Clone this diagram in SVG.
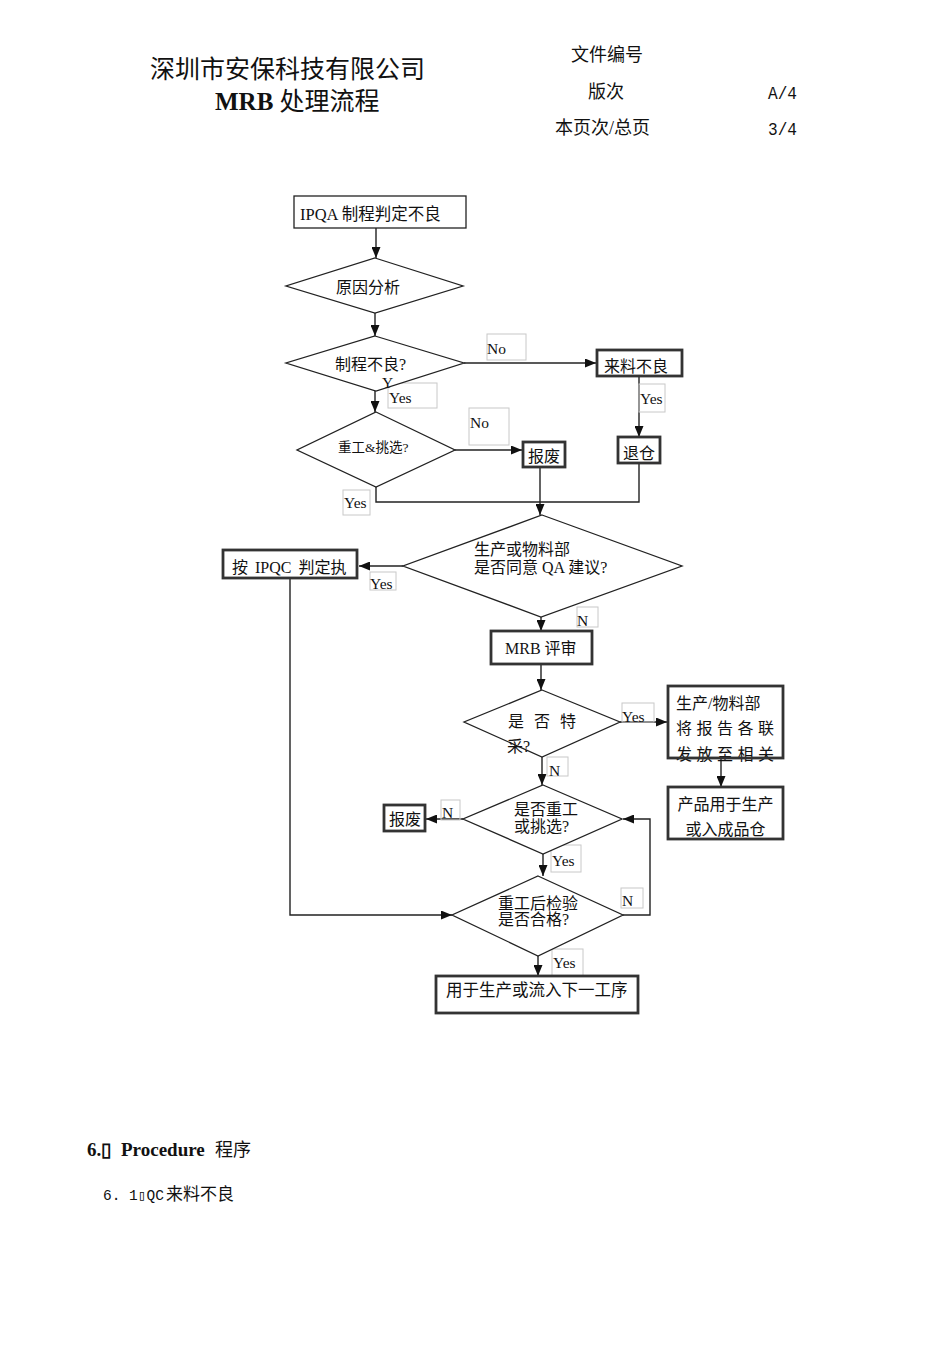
<svg xmlns="http://www.w3.org/2000/svg" width="950" height="1345" viewBox="0 0 950 1345">
<defs>
<marker id="arr" markerUnits="userSpaceOnUse" markerWidth="11" markerHeight="9" refX="11" refY="4.5" orient="auto">
<path d="M0,0 L11,4.5 L0,9 z" fill="#111"/>
</marker>
<style>
text{font-family:"Liberation Serif","Noto Sans CJK SC",serif;fill:#111}
.t16{font-size:16px}
.lbl{font-size:15.5px}
.box{fill:#fff;stroke:#222;stroke-width:1.3}
.tbox{fill:none;stroke:#333;stroke-width:2.8}
.dia{fill:#fff;stroke:#222;stroke-width:1.3}
.lb{fill:none;stroke:#c8c8c8;stroke-width:1}
.con path{fill:none;stroke:#222;stroke-width:1.4}
.mono{font-family:"Liberation Mono","Noto Sans CJK SC",monospace}
</style>
</defs>
<rect width="950" height="1345" fill="#fff"/>

<g id="header">
<text x="150" y="78" style="font-size:25px">深圳市安保科技有限公司</text>
<text x="215" y="110" style="font-size:25px"><tspan font-weight="bold">MRB</tspan> 处理流程</text>
<text x="571" y="61" style="font-size:18px">文件编号</text>
<text x="588" y="98" style="font-size:18px">版次</text>
<text x="768" y="99" class="mono" style="font-size:19px" textLength="29" lengthAdjust="spacingAndGlyphs">A/4</text>
<text x="555" y="134" style="font-size:18px">本页次/总页</text>
<text x="768" y="135" class="mono" style="font-size:19px" textLength="29" lengthAdjust="spacingAndGlyphs">3/4</text>
</g>

<g class="con" id="connectors">
<path d="M376,228 V258" marker-end="url(#arr)"/>
<path d="M375,313 V336" marker-end="url(#arr)"/>
<path d="M375,390 V412" marker-end="url(#arr)"/>
<path d="M464,363 H596" marker-end="url(#arr)"/>
<path d="M639,376 V437" marker-end="url(#arr)"/>
<path d="M455,450 H522" marker-end="url(#arr)"/>
<path d="M540,467 V515" marker-end="url(#arr)"/>
<path d="M376,487 V502 H639 V463"/>
<path d="M403,566 H359" marker-end="url(#arr)"/>
<path d="M290,578 V915 H452" marker-end="url(#arr)"/>
<path d="M541,617 V631" marker-end="url(#arr)"/>
<path d="M541,664 V690" marker-end="url(#arr)"/>
<path d="M620,722 H667" marker-end="url(#arr)"/>
<path d="M721,758 V787" marker-end="url(#arr)"/>
<path d="M542,757 V785" marker-end="url(#arr)"/>
<path d="M463,819 H426" marker-end="url(#arr)"/>
<path d="M543,854 V876" marker-end="url(#arr)"/>
<path d="M623,915 H650 V819 H623" marker-end="url(#arr)"/>
<path d="M538,956 V976" marker-end="url(#arr)"/>
</g>

<g id="labels">
<rect class="lb" x="487" y="334" width="39" height="26"/><text class="lbl" x="487" y="354">No</text>
<rect class="lb" x="388" y="383" width="49" height="25"/><text class="lbl" x="389" y="403">Yes</text>
<rect class="lb" x="639" y="384" width="26" height="28"/><text class="lbl" x="640" y="404">Yes</text>
<rect class="lb" x="469" y="408" width="40" height="37"/><text class="lbl" x="470" y="428">No</text>
<rect class="lb" x="343" y="490" width="27" height="25"/><text class="lbl" x="344" y="508">Yes</text>
<rect class="lb" x="370" y="572" width="26" height="18"/><text class="lbl" x="370" y="589">Yes</text>
<rect class="lb" x="577" y="607" width="21" height="20"/><text class="lbl" x="577" y="626">N</text>
<rect class="lb" x="622" y="703" width="32" height="19"/><text class="lbl" x="622" y="722">Yes</text>
<rect class="lb" x="547" y="757" width="21" height="19"/><text class="lbl" x="549" y="776">N</text>
<rect class="lb" x="441" y="800" width="19" height="20"/><text class="lbl" x="442" y="818">N</text>
<rect class="lb" x="551" y="845" width="30" height="27"/><text class="lbl" x="552" y="866">Yes</text>
<rect class="lb" x="621" y="888" width="22" height="20"/><text class="lbl" x="622" y="906">N</text>
<rect class="lb" x="552" y="949" width="31" height="28"/><text class="lbl" x="553" y="968">Yes</text>
</g>

<g id="n1"><rect class="box" x="294" y="196" width="172" height="32"/><text x="300" y="220" style="font-size:16.5px">IPQA 制程判定不良</text></g>
<g id="n2"><polygon class="dia" points="375,258 463,286 375,313 286,286"/><text class="t16" x="336" y="293">原因分析</text></g>
<g id="n3"><polygon class="dia" points="375,336 464,363 376,391 286,363"/><text class="t16" x="335" y="370">制程不良?</text><text class="lbl" x="382" y="388">Y</text></g>
<g id="n4"><rect class="box" x="597" y="350" width="85" height="26"/><rect class="tbox" x="597" y="350" width="85" height="26"/><text class="t16" x="604" y="372">来料不良</text></g>
<g id="n5"><rect class="box" x="618" y="437" width="42" height="26"/><rect class="tbox" x="618" y="437" width="42" height="26"/><text class="t16" x="623" y="459">退仓</text></g>
<g id="n6"><polygon class="dia" points="376,412 455,450 376,487 297,450"/><text x="338" y="452" style="font-size:13.5px">重工&amp;挑选?</text></g>
<g id="n7"><rect class="box" x="523" y="442" width="42" height="25"/><rect class="tbox" x="523" y="442" width="42" height="25"/><text class="t16" x="528" y="462">报废</text></g>
<g id="n8"><polygon class="dia" points="542,515 682,566 541,617 403,566"/><text class="t16" x="474" y="555">生产或物料部</text><text class="t16" x="474" y="573">是否同意 QA 建议?</text></g>
<g id="n9"><rect class="box" x="223" y="550" width="134" height="28"/><rect class="tbox" x="223" y="550" width="134" height="28"/><text class="t16" x="232" y="573" style="word-spacing:3px">按 IPQC 判定执</text></g>
<g id="n10"><rect class="box" x="491" y="631" width="101" height="33"/><rect class="tbox" x="491" y="631" width="101" height="33"/><text class="t16" x="505" y="654">MRB 评审</text></g>
<g id="n11"><polygon class="dia" points="542,690 620,722 542,757 464,722"/><text class="t16" x="508" y="727" style="letter-spacing:10px">是否特</text><text class="t16" x="507" y="752">采?</text></g>
<g id="n12"><rect class="box" x="668" y="686" width="115" height="72"/><text class="t16" x="676" y="709">生产/物料部</text><text class="t16" x="676" y="734" style="letter-spacing:4.5px">将报告各联</text><text class="t16" x="676" y="760" style="letter-spacing:4.5px">发放至相关</text><rect class="tbox" x="668" y="686" width="115" height="72"/></g>
<g id="n13"><rect class="box" x="668" y="787" width="115" height="52"/><rect class="tbox" x="668" y="787" width="115" height="52"/><text class="t16" x="725.5" y="810" text-anchor="middle">产品用于生产</text><text class="t16" x="725.5" y="835" text-anchor="middle">或入成品仓</text></g>
<g id="n14"><polygon class="dia" points="543,785 622,819 543,854 463,819"/><text class="t16" x="514" y="815">是否重工</text><text class="t16" x="514" y="832">或挑选?</text></g>
<g id="n15"><rect class="box" x="384" y="805" width="41" height="26"/><rect class="tbox" x="384" y="805" width="41" height="26"/><text class="t16" x="389" y="825">报废</text></g>
<g id="n16"><polygon class="dia" points="538,876 623,915 538,956 452,915"/><text class="t16" x="498" y="909">重工后检验</text><text class="t16" x="498" y="925">是否合格?</text></g>
<g id="n17"><rect class="box" x="436" y="976" width="202" height="37"/><rect class="tbox" x="436" y="976" width="202" height="37"/><text x="446" y="996" style="font-size:16.5px">用于生产或流入下一工序</text></g>

<g id="footer">
<text x="87" y="1156" style="font-size:19px"><tspan font-weight="bold">6.▯</tspan><tspan x="121" font-weight="bold">Procedure</tspan><tspan x="215" style="font-size:18px">程序</tspan></text>
<text x="103" y="1200" style="font-size:17px"><tspan class="mono" style="font-size:14.5px">6. 1▯QC</tspan><tspan x="166">来料不良</tspan></text>
</g>
</svg>
